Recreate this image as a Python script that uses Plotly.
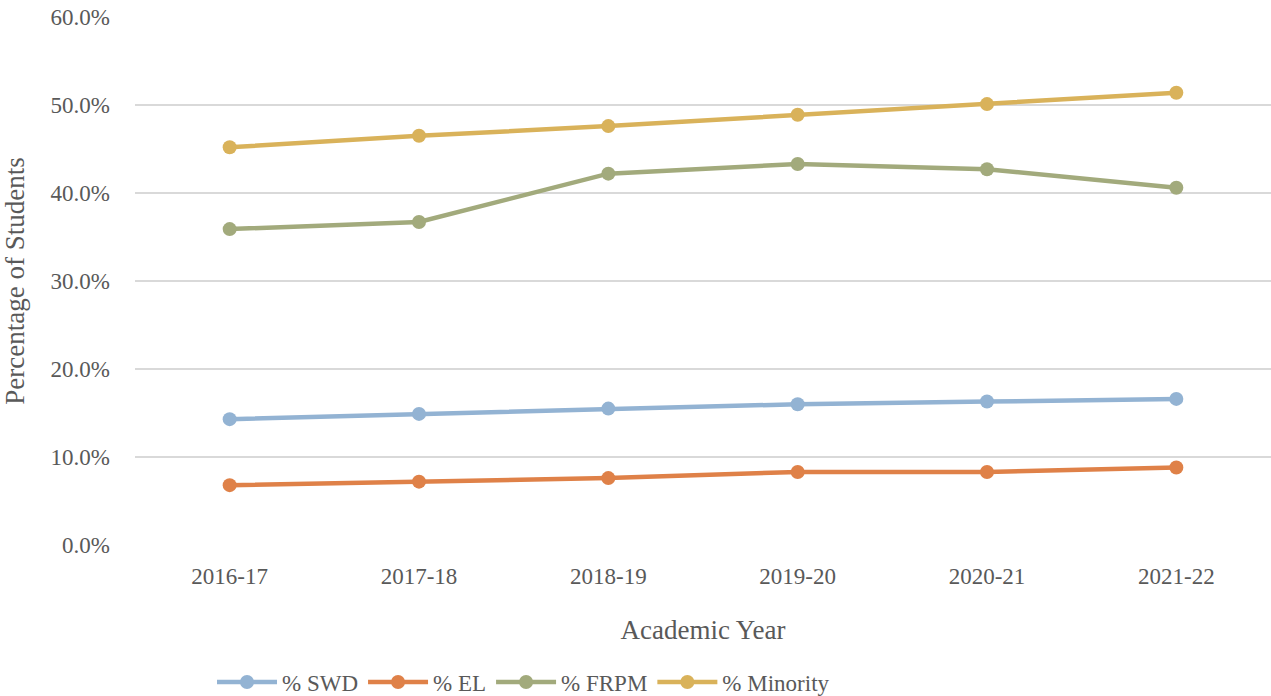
import plotly.graph_objects as go

years = ["2016-17", "2017-18", "2018-19", "2019-20", "2020-21", "2021-22"]
swd = [14.3, 14.9, 15.5, 16.0, 16.3, 16.6]
el = [6.8, 7.2, 7.6, 8.3, 8.3, 8.8]
frpm = [35.9, 36.7, 42.2, 43.3, 42.7, 40.6]
minority = [45.2, 46.5, 47.6, 48.9, 50.1, 51.4]

series = [
    ("% SWD", swd, "#93b3d3"),
    ("% EL", el, "#df8148"),
    ("% FRPM", frpm, "#a2aa7c"),
    ("% Minority", minority, "#d9b25a"),
]

fig = go.Figure()
for name, vals, col in series:
    fig.add_trace(go.Scatter(
        x=years, y=[v / 100 for v in vals], name=name, mode="lines+markers",
        line=dict(color=col, width=4.5),
        marker=dict(color=col, size=14),
    ))

FAM = "Liberation Serif"
font = dict(family=FAM, color="#595959", size=23)
fig.update_layout(
    width=1271, height=696,
    margin=dict(l=135, r=0, t=17, b=151, autoexpand=False),
    plot_bgcolor="white", paper_bgcolor="white",
    font=font,
    showlegend=True,
    legend=dict(orientation="h", x=0.342, xanchor="center",
                yref="container", y=0.02, yanchor="middle",
                itemwidth=60,
                font=dict(family=FAM, size=23, color="#595959"), traceorder="normal"),
    xaxis=dict(type="category", range=[-0.5, 5.5], showgrid=False, ticks="",
               showline=False, zeroline=False, ticklabelstandoff=15, automargin=False,
               tickfont=dict(family=FAM, size=23, color="#595959"),
               title=dict(text="Academic Year", standoff=32, font=dict(family=FAM, size=27, color="#595959"))),
    yaxis=dict(range=[0, 0.6], dtick=0.1, tickformat=".1%", gridcolor="#d9d9d9", gridwidth=1.5,
               zeroline=False, showline=False, ticks="", ticklabelstandoff=24, automargin=False,
               ticklabeloverflow="allow",
               tickfont=dict(family=FAM, size=23, color="#595959"),
               title=dict(text="Percentage of Students", standoff=18, font=dict(family=FAM, size=27, color="#595959"))),
)
fig.write_html("out.html", config={"displayModeBar": False},
               post_script="document.body.style.margin='0';document.body.style.overflow='hidden';")
